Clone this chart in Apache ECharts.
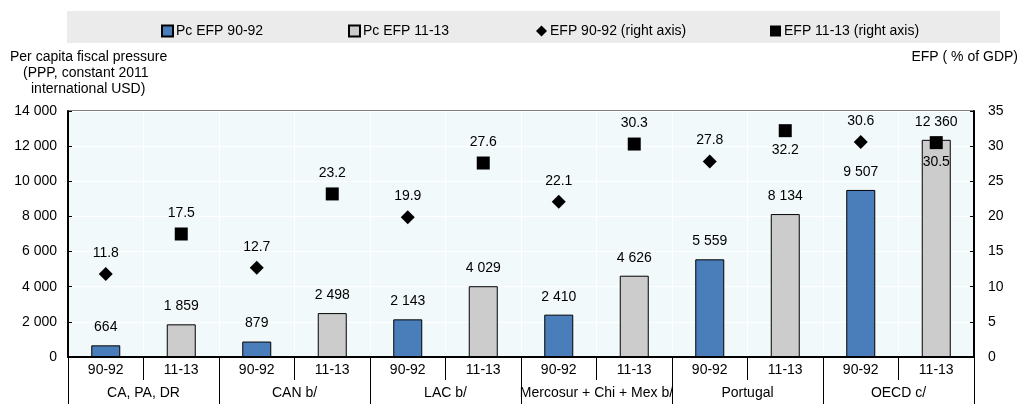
<!DOCTYPE html>
<html>
<head>
<meta charset="utf-8">
<script src="https://cdn.jsdelivr.net/npm/echarts@6/dist/echarts.min.js"></script>
<style>
  html, body { margin: 0; padding: 0; background: #fff; }
  #main { width: 1027px; height: 404px; }
</style>
</head>
<body>
<div id="main"></div>
<script>
var periods = ['90-92', '11-13', '90-92', '11-13', '90-92', '11-13', '90-92', '11-13', '90-92', '11-13', '90-92', '11-13'];
var groups = ['CA, PA, DR', 'CAN b/', 'LAC b/', 'Mercosur + Chi + Mex b/', 'Portugal', 'OECD c/'];
var pcEfp9092 = [664, '-', 879, '-', 2143, '-', 2410, '-', 5559, '-', 9507, '-'];
var pcEfp1113 = ['-', 1859, '-', 2498, '-', 4029, '-', 4626, '-', 8134, '-', 12360];
var efp9092 = [11.8, '-', 12.7, '-', 19.9, '-', 22.1, '-', 27.8, '-', 30.6, '-'];
var efp1113 = ['-', 17.5, '-', 23.2, '-', 27.6, '-', 30.3, '-', 32.2, '-', 30.5];
// labels of these points sit under the marker
var below = [9, 11];

var font = 'Liberation Sans, Arial, sans-serif';
var fs = 14;

function fmt(v) {
    return String(v).replace(/\B(?=(\d{3})+(?!\d))/g, ' ');
}

var myChart = echarts.init(document.getElementById('main'));

var legendBase = {
    top: 19,
    itemWidth: 11,
    itemHeight: 11,
    itemGap: 4,
    textStyle: { fontFamily: font, fontSize: fs, color: '#000', padding: [0, 0, 0, -2] }
};

function lg(left, name, icon) {
    return Object.assign({}, legendBase, { left: left, data: [{ name: name, icon: icon }] });
}

var lbl = { color: '#000', fontSize: fs, fontWeight: 'normal', textBorderWidth: 0 };

var option = {
    animation: false,
    textStyle: { fontFamily: font },
    graphic: [
        { type: 'rect', shape: { x: 67, y: 11, width: 933, height: 32 }, style: { fill: '#ebebeb' }, z: -10 },
        { type: 'text', left: 10, top: 50, style: { text: 'Per capita fiscal pressure', font: fs + 'px ' + font, fill: '#000' } },
        { type: 'text', left: 23, top: 66, style: { text: '(PPP, constant 2011', font: fs + 'px ' + font, fill: '#000' } },
        { type: 'text', left: 31, top: 82, style: { text: 'international USD)', font: fs + 'px ' + font, fill: '#000' } },
        { type: 'text', right: 9, top: 50, style: { text: 'EFP ( % of GDP)', font: fs + 'px ' + font, fill: '#000' } }
    ],
    legend: [
        lg(156, 'Pc EFP 90-92', 'rect'),
        lg(343, 'Pc EFP 11-13', 'rect'),
        lg(531, 'EFP 90-92 (right axis)', 'diamond'),
        lg(765, 'EFP 11-13 (right axis)', 'rect')
    ],
    grid: {
        left: 68, right: 53, top: 111, bottom: 47,
        show: true,
        backgroundColor: '#f2f9fb',
        borderColor: '#000',
        borderWidth: 1
    },
    xAxis: [
        {
            type: 'category',
            data: periods,
            position: 'bottom',
            axisLine: { lineStyle: { color: '#000', width: 2 } },
            axisTick: { show: true, interval: 0, length: 23, lineStyle: { color: '#000' } },
            axisLabel: Object.assign({ interval: 0, margin: 6 }, lbl),
            splitLine: { show: true, interval: 0, lineStyle: { color: '#fff', width: 1 } }
        },
        {
            type: 'category',
            data: groups,
            position: 'bottom',
            offset: 0,
            axisLine: { show: false },
            axisTick: { show: true, interval: 0, length: 47, lineStyle: { color: '#000' } },
            axisLabel: Object.assign({ interval: 0, margin: 29 }, lbl),
            splitLine: { show: false }
        }
    ],
    yAxis: [
        {
            type: 'value',
            min: 0, max: 14000, interval: 2000,
            axisLine: { show: true, lineStyle: { color: '#000', width: 2 } },
            axisTick: { show: true, inside: true, length: 4, lineStyle: { color: '#000' } },
            axisLabel: Object.assign({ margin: 11, formatter: fmt }, lbl),
            splitLine: { show: true, lineStyle: { color: '#fff', width: 1 } }
        },
        {
            type: 'value',
            min: 0, max: 35, interval: 5,
            position: 'right',
            axisLine: { show: true, lineStyle: { color: '#000', width: 2 } },
            axisTick: { show: true, inside: true, length: 4, lineStyle: { color: '#000' } },
            axisLabel: Object.assign({ margin: 14 }, lbl),
            splitLine: { show: false }
        }
    ],
    series: [
        {
            name: 'Pc EFP 90-92',
            type: 'bar',
            data: pcEfp9092,
            barWidth: 29,
            barGap: '-100%',
            itemStyle: { color: '#4a7ebb', borderColor: '#000', borderWidth: 1 },
            label: Object.assign({ show: true, position: 'top', distance: 11, formatter: function (p) { return fmt(p.value); } }, lbl)
        },
        {
            name: 'Pc EFP 11-13',
            type: 'bar',
            data: pcEfp1113,
            barWidth: 29,
            barGap: '-100%',
            itemStyle: { color: '#cccccc', borderColor: '#000', borderWidth: 1 },
            label: Object.assign({ show: true, position: 'top', distance: 11, formatter: function (p) { return fmt(p.value); } }, lbl)
        },
        {
            name: 'EFP 90-92 (right axis)',
            type: 'scatter',
            yAxisIndex: 1,
            data: efp9092,
            symbol: 'diamond',
            symbolSize: 14,
            itemStyle: { color: '#000', opacity: 1 },
            label: Object.assign({ show: true, position: 'top', distance: 7, formatter: function (p) { return p.value.toFixed(1); } }, lbl),
            z: 5
        },
        {
            name: 'EFP 11-13 (right axis)',
            type: 'scatter',
            yAxisIndex: 1,
            data: efp1113.map(function (v, i) {
                if (below.indexOf(i) >= 0) {
                    return { value: v, label: { position: 'bottom', distance: 6 } };
                }
                return v;
            }),
            symbol: 'rect',
            symbolSize: 13,
            itemStyle: { color: '#000', opacity: 1 },
            label: Object.assign({ show: true, position: 'top', distance: 7, formatter: function (p) { return p.value.toFixed(1); } }, lbl),
            z: 5
        }
    ]
};
myChart.setOption(option);
</script>
</body>
</html>
